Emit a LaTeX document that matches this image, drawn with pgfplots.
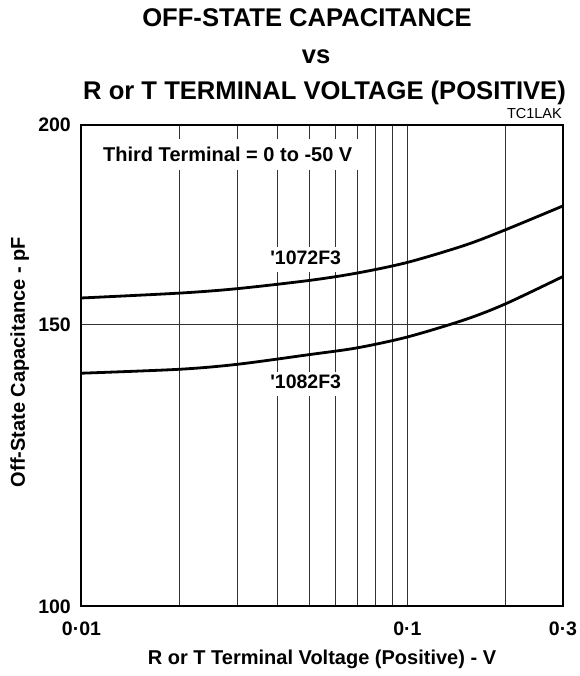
\documentclass[border=0pt]{standalone}
\usepackage{pgfplots}
\pgfplotsset{compat=1.18}
\usepackage{fontspec}
\setmainfont{Liberation Sans}
\begin{document}
\begin{tikzpicture}[x=1pt,y=1pt]
\useasboundingbox (0,0) rectangle (579,676);
\begin{axis}[
 at={(81.5pt,69.5pt)}, anchor=south west,
 scale only axis, width=481.5pt, height=481.5pt,
 xmode=log, ymode=log,
 xmin=0.01, xmax=0.3, ymin=100, ymax=200,
 xtick={0.01,0.1,0.3}, xticklabels={0·01,0·1,0·3},
 ytick={100,150,200}, yticklabels={100,150,200},
 minor xtick={0.02,0.03,0.04,0.05,0.06,0.07,0.08,0.09,0.2},
 xminorgrids=true, xmajorgrids=true, ymajorgrids=true,
 major tick length=0pt, minor tick length=0pt,
 grid style={black!80, line width=0.9pt},
 minor grid style={black!80, line width=0.9pt},
 axis line style={line width=2pt},
 ticklabel style={font=\fontsize{19.5}{20}\selectfont\bfseries, inner sep=0pt},
 xticklabel shift=15.5pt, yticklabel shift=10.5pt,
]
\addplot[black, line width=2.8pt, smooth] coordinates {(0.01,155.9) (0.02,157.0) (0.03,158.0) (0.05,159.9) (0.07,161.6) (0.1,164.1) (0.15,168.2) (0.2,172.0) (0.3,178.0)};
\addplot[black, line width=2.8pt, smooth] coordinates {(0.01,139.9) (0.02,140.7) (0.03,141.7) (0.05,143.7) (0.07,145.1) (0.1,147.4) (0.15,151.1) (0.2,154.6) (0.3,160.8)};
\end{axis}
\node[font=\fontsize{25.6}{27}\selectfont\bfseries, anchor=base, inner sep=0pt] at (307,649.3) {OFF-STATE CAPACITANCE};
\node[font=\fontsize{25.6}{27}\selectfont\bfseries, anchor=base, inner sep=0pt] at (316,612) {vs};
\node[font=\fontsize{25.6}{27}\selectfont\bfseries, anchor=base, inner sep=0pt] at (324.5,576) {R or T TERMINAL VOLTAGE (POSITIVE)};
\node[font=\fontsize{14.5}{16}\selectfont, anchor=base east, inner sep=0pt] at (562,557) {TC1LAK};
\fill[white] (95,506) rectangle (365,537);
\node[font=\fontsize{20}{22}\selectfont\bfseries, anchor=base west, inner sep=0pt] at (103,514) {Third Terminal = 0 to -50 V};
\fill[white] (262,404.3) rectangle (350,429.3);
\node[font=\fontsize{19.5}{21}\selectfont\bfseries, anchor=base, inner sep=0pt] at (305.7,411) {\textquotesingle1072F3};
\fill[white] (262,280) rectangle (350,304);
\node[font=\fontsize{19.5}{21}\selectfont\bfseries, anchor=base, inner sep=0pt] at (305.7,287) {\textquotesingle1082F3};
\node[font=\fontsize{20}{22}\selectfont\bfseries, anchor=base, inner sep=0pt] at (322,11) {R or T Terminal Voltage (Positive) - V};
\node[font=\fontsize{20}{22}\selectfont\bfseries, rotate=90, anchor=base, inner sep=0pt] at (25,314) {Off-State Capacitance - pF};
\end{tikzpicture}
\end{document}
